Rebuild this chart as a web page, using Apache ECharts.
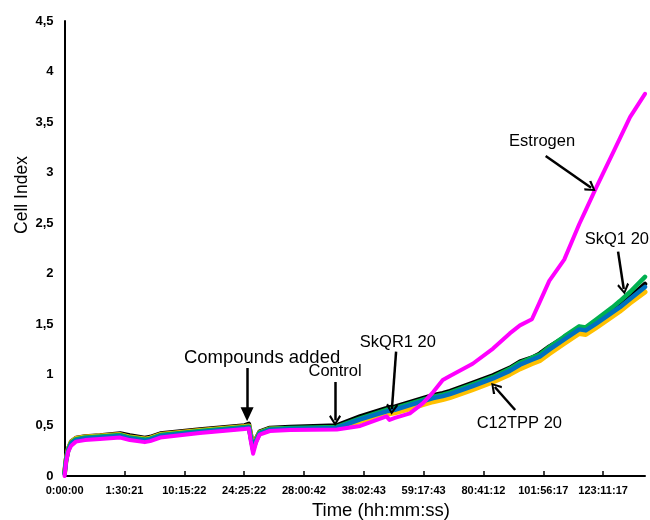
<!DOCTYPE html>
<html>
<head>
<meta charset="utf-8">
<script src="https://cdn.jsdelivr.net/npm/echarts@6/dist/echarts.min.js"></script>
<style>html,body{margin:0;padding:0;background:#fff}#c{width:650px;height:520px}</style>
</head>
<body>
<div id="c"></div>
<script>
// ---- data ----
const xTickLabels = ['0:00:00','1:30:21','10:15:22','24:25:22','28:00:42','38:02:43','59:17:43','80:41:12','101:56:17','123:11:17'];
const yTickLabels = ['0','0,5','1','1,5','2','2,5','3','3,5','4','4,5'];
// time-point index (position along the category-like time axis)
const timeIdx = [0,0.25,0.6,1.1,1.9,3.4,5.9,9.3,10.9,13.4,14.3,16,22.6,30.1,30.8,31.1,31.5,32,32.6,34.3,37.7,45.5,49.4,53.8,54.3,55.2,57.7,59.9,61.6,63.2,64.4,68.2,71.6,74.4,76.1,78.1,79.4,81.0,83.5,86.0,87.1,88.9,91.6,92.8,94.5,97];
const control = [0.04,0.17,0.27,0.34,0.375,0.39,0.40,0.42,0.40,0.375,0.385,0.42,0.46,0.50,0.515,0.42,0.29,0.37,0.44,0.475,0.485,0.50,0.59,0.67,0.68,0.685,0.73,0.77,0.80,0.82,0.84,0.92,0.995,1.07,1.13,1.17,1.21,1.28,1.37,1.46,1.46,1.53,1.64,1.69,1.77,1.90];
const c12tpp = [0.03,0.16,0.265,0.335,0.37,0.385,0.395,0.41,0.385,0.365,0.375,0.41,0.45,0.49,0.495,0.40,0.28,0.36,0.43,0.465,0.47,0.47,0.54,0.61,0.615,0.625,0.665,0.705,0.735,0.755,0.775,0.855,0.93,1.005,1.06,1.11,1.14,1.21,1.31,1.41,1.40,1.47,1.58,1.63,1.71,1.82];
const skq1 = [0.03,0.16,0.26,0.33,0.365,0.38,0.39,0.405,0.38,0.36,0.37,0.405,0.445,0.485,0.49,0.39,0.27,0.355,0.43,0.465,0.475,0.485,0.57,0.655,0.66,0.67,0.715,0.755,0.785,0.805,0.825,0.905,0.98,1.06,1.12,1.17,1.20,1.275,1.38,1.48,1.47,1.55,1.67,1.73,1.82,1.97];
const skqr1 = [0.02,0.15,0.25,0.32,0.355,0.37,0.38,0.395,0.37,0.35,0.36,0.395,0.435,0.475,0.48,0.38,0.26,0.345,0.42,0.455,0.465,0.475,0.56,0.64,0.645,0.655,0.70,0.74,0.77,0.79,0.81,0.89,0.965,1.04,1.10,1.15,1.18,1.25,1.35,1.45,1.44,1.51,1.62,1.67,1.75,1.87];
const estrogen = [0,0.14,0.24,0.30,0.34,0.355,0.365,0.38,0.355,0.335,0.345,0.38,0.425,0.465,0.47,0.35,0.22,0.33,0.41,0.445,0.455,0.46,0.495,0.59,0.555,0.575,0.62,0.72,0.83,0.95,0.99,1.11,1.26,1.41,1.49,1.55,1.72,1.93,2.14,2.49,2.63,2.86,3.19,3.34,3.55,3.78];
// annotations: [x index, value, text, font size]
const annTexts = [
  [33.0, 1.167, 'Compounds added', 18.5],
  [45.2, 1.03, 'Control', 16.5],
  [55.7, 1.32, 'SkQR1 20', 16.5],
  [76.0, 0.524, 'C12TPP 20', 16.5],
  [79.8, 3.307, 'Estrogen', 16.5],
  [92.3, 2.344, 'SkQ1 20', 16.5]
];
// arrows: [from x, from value, to x, to value, head style]
const annArrows = [
  [30.5, 1.068, 30.5, 0.61, 'filled'],
  [45.2, 0.93, 45.2, 0.55, 'open'],
  [55.4, 1.23, 54.7, 0.66, 'open'],
  [75.3, 0.653, 71.9, 0.88, 'open'],
  [80.4, 3.165, 88.0, 2.85, 'open'],
  [92.5, 2.219, 93.45, 1.85, 'open']
];

const FONT = 'Liberation Sans, Arial, sans-serif';
const openHead = 'path://M5,0 L10,8.6 L8.6,10 L5,3.2 L1.4,10 L0,8.6 Z';
const filledHead = 'path://M5,0 L10,10 L0,10 Z';

function pairs(vals){ return timeIdx.map((x,i)=>[x, vals[i]]); }
function lineSeries(name, vals, color, width){
  return {name, type:'line', data: pairs(vals), showSymbol:false, symbol:'none',
    lineStyle:{color, width, join:'round', cap:'round'}, itemStyle:{color}, animation:false, z:2};
}

const chart = echarts.init(document.getElementById('c'), null, {renderer:'canvas'});
chart.setOption({
  backgroundColor:'#fff',
  animation:false,
  grid:{left:64.6, right:5, top:21, bottom:44, containLabel:false},
  xAxis:{type:'value', min:0, max:97, interval:10,
    axisLine:{show:true, lineStyle:{color:'#000', width:2}},
    axisTick:{show:true, inside:true, length:5, lineStyle:{color:'#000', width:1.5}},
    splitLine:{show:false},
    axisLabel:{showMaxLabel:false, margin:9, color:'#000', fontWeight:'bold', fontSize:11, fontFamily:FONT,
      formatter:v=>{ const i=Math.round(v/10); return (Math.abs(v-i*10)<1e-6 && xTickLabels[i]) ? xTickLabels[i] : ''; }}
  },
  yAxis:{type:'value', min:0, max:4.5, interval:0.5,
    axisLine:{show:true, lineStyle:{color:'#000', width:2}},
    axisTick:{show:false}, splitLine:{show:false},
    axisLabel:{margin:11, color:'#000', fontWeight:'bold', fontSize:13, fontFamily:FONT,
      formatter:v=>yTickLabels[Math.round(v/0.5)] || ''}
  },
  graphic:[
    {type:'text', x:22, y:195, rotation:Math.PI/2, z:10,
      style:{text:'Cell Index', fontSize:17.5, fontFamily:FONT, fill:'#000', align:'center', verticalAlign:'middle'}},
    {type:'text', x:381, y:511, z:10,
      style:{text:'Time (hh:mm:ss)', fontSize:18.5, fontFamily:FONT, fill:'#000', align:'center', verticalAlign:'middle'}}
  ],
  series:[
    lineSeries('Control', control, '#000000', 4.5),
    lineSeries('C12TPP 20', c12tpp, '#FFC000', 5),
    lineSeries('SkQ1 20', skq1, '#00B050', 4.5),
    lineSeries('SkQR1 20', skqr1, '#0070C0', 4.5),
    lineSeries('Estrogen', estrogen, '#FF00FF', 4),
    {
      name:'annotations', type:'scatter', z:5, symbolSize:0.1, animation:false,
      itemStyle:{color:'#000'},
      data: annTexts.map(a=>({value:[a[0],a[1]], label:{show:true, position:'inside', formatter:a[2], fontSize:a[3], fontFamily:FONT, color:'#000', textBorderWidth:0, textBorderColor:'transparent', opacity:1}})),
      markLine:{
        silent:true, animation:false, precision:4,
        label:{show:false},
        lineStyle:{color:'#000', width:2.5, type:'solid', opacity:1},
        data: annArrows.map(a=>[
          {coord:[a[0],a[1]], symbol:'none'},
          {coord:[a[2],a[3]], symbol: a[4]==='filled' ? filledHead : openHead, symbolSize: a[4]==='filled' ? [13,14] : [12,11]}
        ])
      }
    }
  ]
});
</script>
</body>
</html>
